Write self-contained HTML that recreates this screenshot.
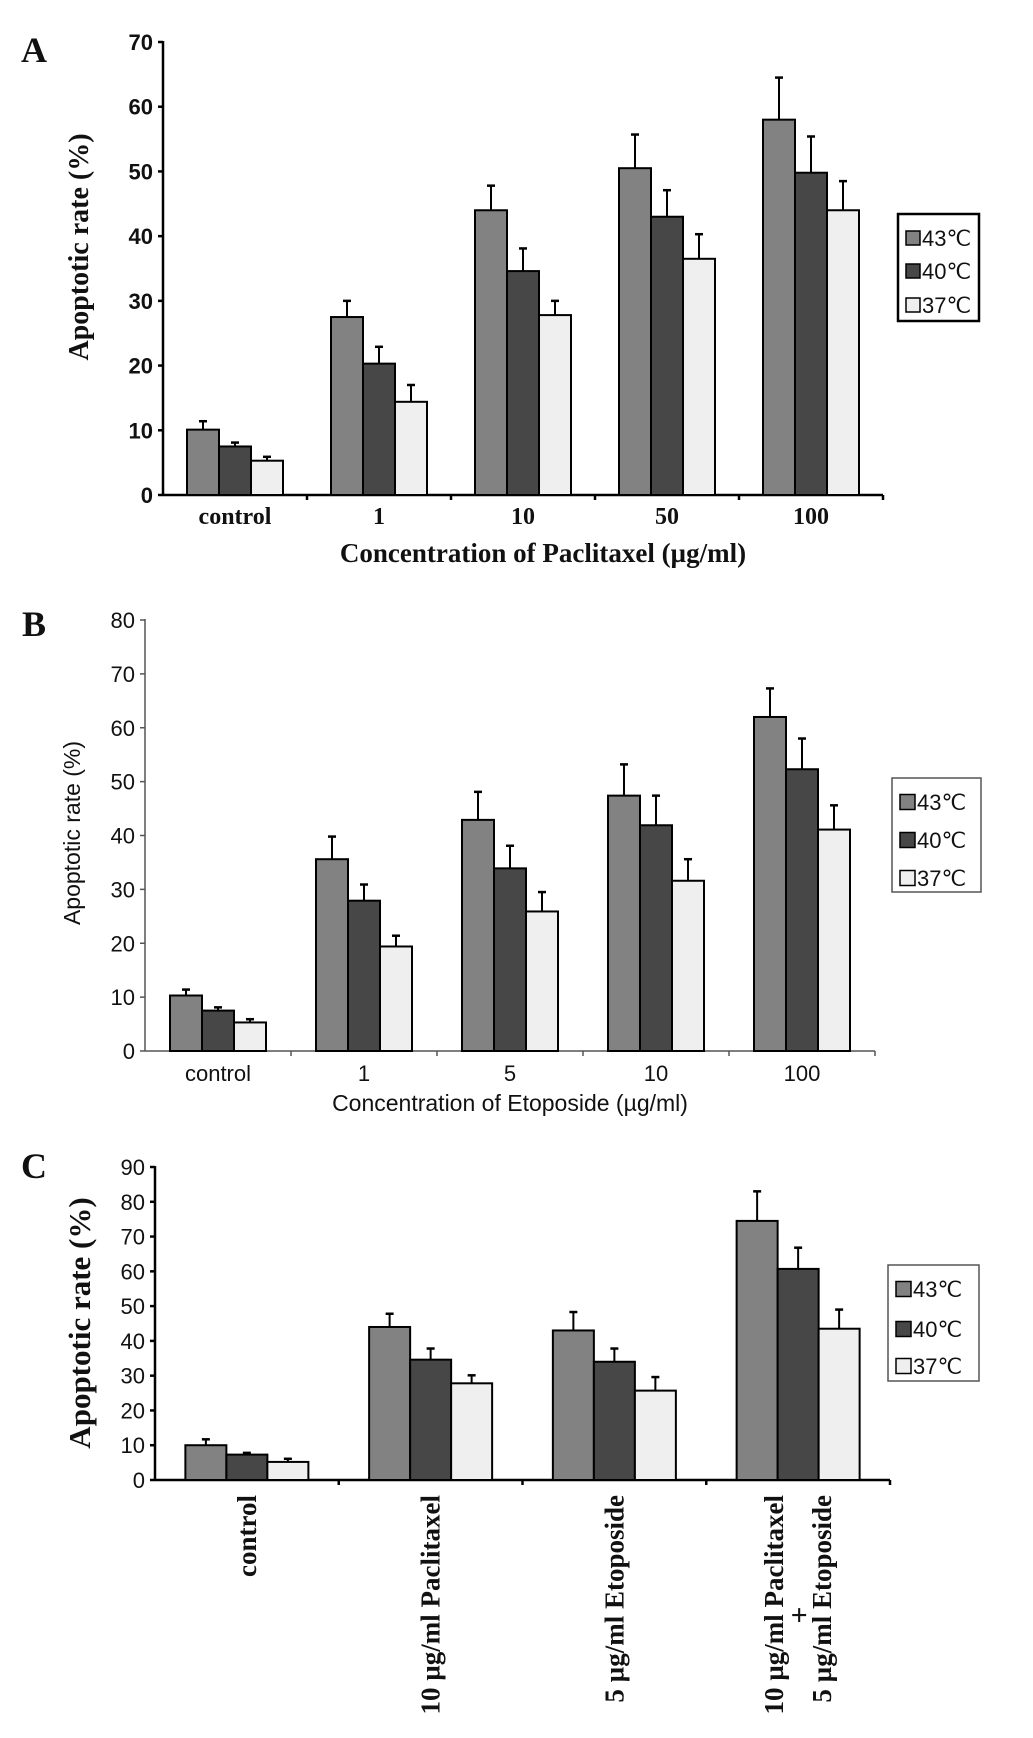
<!DOCTYPE html>
<html><head><meta charset="utf-8">
<style>
html,body{margin:0;padding:0;background:#fff;}
svg{display:block;}
.tick{font-family:"Liberation Sans Narrow","Liberation Sans",sans-serif;font-size:22px;fill:#111;}
.serif{font-family:"Liberation Serif",serif;font-weight:bold;fill:#111;}
.sans{font-family:"Liberation Sans Narrow","Liberation Sans",sans-serif;fill:#111;}
</style></head>
<body>
<svg id="fig" width="1033" height="1738" viewBox="0 0 1033 1738"></svg>
<script>
const seriesNames=["43℃","40℃","37℃"];
const seriesColors=["#828282","#474747","#efefef"];
// Panel A
const catsA=["control","1","10","50","100"];
const a43=[10.1,27.5,44,50.5,58];
const a43err=[1.3,2.5,3.8,5.2,6.5];
const a40=[7.5,20.3,34.6,43,49.8];
const a40err=[0.6,2.6,3.5,4.1,5.6];
const a37=[5.3,14.4,27.8,36.5,44];
const a37err=[0.6,2.6,2.2,3.8,4.5];
const ticksA=[0,10,20,30,40,50,60,70];
// Panel B
const catsB=["control","1","5","10","100"];
const b43=[10.3,35.6,42.9,47.4,62];
const b43err=[1.1,4.2,5.2,5.8,5.3];
const b40=[7.5,27.9,33.9,41.9,52.3];
const b40err=[0.6,3,4.2,5.5,5.7];
const b37=[5.3,19.4,25.9,31.6,41.1];
const b37err=[0.6,2,3.6,4,4.5];
const ticksB=[0,10,20,30,40,50,60,70,80];
// Panel C
const catsC=[["control"],["10 µg/ml Paclitaxel"],["5 µg/ml Etoposide"],["10 µg/ml Paclitaxel","5 µg/ml Etoposide"]];
const c43=[10,44,43,74.5];
const c43err=[1.7,3.8,5.3,8.5];
const c40=[7.3,34.6,34,60.7];
const c40err=[0.5,3.2,3.8,6.1];
const c37=[5.2,27.8,25.7,43.5];
const c37err=[0.9,2.3,3.9,5.5];
const ticksC=[0,10,20,30,40,50,60,70,80,90];

const NS="http://www.w3.org/2000/svg";
const svg=document.getElementById('fig');
function el(tag,attrs,parent,text){const e=document.createElementNS(NS,tag);for(const k in attrs)e.setAttribute(k,attrs[k]);if(text!==undefined)e.textContent=text;(parent||svg).appendChild(e);return e;}

function panel(cfg){
  const g=el('g',{});
  
  
  const y=v=>cfg.y0-(v/cfg.ymax)*(cfg.y0-cfg.ytop);
  const gw=(cfg.x1-cfg.x0)/cfg.cats.length;
  const x=(i,s)=>cfg.x0+i*gw+(gw-3*cfg.bw)/2+s*cfg.bw;
  // axes
  const ax=el('line',{x1:cfg.x0,y1:cfg.ytop-1,x2:cfg.x0,y2:cfg.y0,stroke:cfg.axisColor,'stroke-width':cfg.axisW},g);
  
  
  const xa=el('line',{x1:cfg.x0,y1:cfg.y0,x2:cfg.x1,y2:cfg.y0,stroke:cfg.axisColor,'stroke-width':cfg.axisW},g);
  
  
  cfg.ticks.forEach(t=>{
    el('line',{x1:cfg.x0-5,y1:y(t),x2:cfg.x0,y2:y(t),stroke:cfg.axisColor,'stroke-width':cfg.axisW},g);
    const tl=el('text',{x:cfg.x0-10,y:y(t)+8,'text-anchor':'end',class:'tick','font-weight':cfg.tickBold?'bold':'normal'},g,String(t));
    
    
  });
  for(let i=1;i<=cfg.cats.length;i++){
    el('line',{x1:cfg.x0+i*gw,y1:cfg.y0,x2:cfg.x0+i*gw,y2:cfg.y0+5,stroke:cfg.axisColor,'stroke-width':cfg.axisW},g);
  }
  cfg.series.forEach((vals,s)=>{
    vals.forEach((v,i)=>{
      const bx=x(i,s), top=y(v), et=y(v+cfg.errs[s][i]), cx=bx+cfg.bw/2;
      const eb=el('line',{x1:cx,y1:top,x2:cx,y2:et,stroke:'#000','stroke-width':2},g);
      
      
      el('line',{x1:cx-4,y1:et,x2:cx+4,y2:et,stroke:'#000','stroke-width':2.5},g);
      const r=el('rect',{x:bx,y:top,width:cfg.bw,height:cfg.y0-top,fill:seriesColors[s],stroke:'#000','stroke-width':2},g);
      
      
    });
  });
  // legend
  const L=cfg.legend;
  const lb=el('rect',{x:L.x,y:L.y,width:L.w,height:L.h,fill:'#fff',stroke:L.stroke,'stroke-width':L.sw},g);
  
  
  seriesNames.forEach((n,s)=>{
    const cy=L.rows[s];
    el('rect',{x:L.x+8,y:cy-L.sq/2,width:L.sq,height:L.sq,fill:seriesColors[s],stroke:'#000','stroke-width':1.5},g);
    const t=el('text',{x:L.x+10+L.sq,y:cy+8,class:'tick','font-size':L.fs},g,n);
    
    
  });
  // category labels
  cfg.cats.forEach((c,i)=>{
    const cx=cfg.x0+i*gw+gw/2;
    if(cfg.rotate){
      c.forEach((line,k)=>{
        const off=(k-(c.length-1)/2)*48;
        const t=el('text',{x:0,y:0,'text-anchor':'end',class:'serif','font-size':27,transform:`translate(${cx+off+9},${cfg.labY}) rotate(-90)`},g,line);
        
        
      });
      if(c.length>1){el('text',{x:cx+1,y:cfg.labY+130,'text-anchor':'middle',class:'serif','font-size':30},g,'+');}
    } else {
      const t=el('text',{x:cx,y:cfg.labY,'text-anchor':'middle',class:cfg.labClass,'font-size':cfg.labFs,'font-weight':cfg.labBold?'bold':'normal'},g,c);
      
      
    }
  });
  return g;
}

function title(txt,x,y,cls,fs,rot,name,weight){
  const t=el('text',{x:0,y:0,'text-anchor':'middle',class:cls,'font-size':fs,transform:`translate(${x},${y})`+(rot?' rotate(-90)':'')},svg,txt);
  if(weight)t.setAttribute('font-weight',weight);
  
  
}

panel({name:'chart-a',cats:catsA,series:[a43,a40,a37],errs:[a43err,a40err,a37err],ticks:ticksA,ymax:70,
  x0:163,x1:883,ytop:42,y0:495,bw:32,axisColor:'#000',axisW:2.5,tickBold:true,
  labY:524,labClass:'serif',labFs:24,labBold:true,
  legend:{x:898,y:214,w:81,h:107,rows:[238,271,305],sq:14,fs:22,stroke:'#000',sw:2.5}});
title('A',34,62,'serif',36,false,'panel-label-a');
title('Apoptotic rate (%)',88,247,'serif',28,true,'y-axis-title-a');
title('Concentration of Paclitaxel (µg/ml)',543,562,'serif',27,false,'x-axis-title-a');

panel({name:'chart-b',cats:catsB,series:[b43,b40,b37],errs:[b43err,b40err,b37err],ticks:ticksB,ymax:80,
  x0:145,x1:875,ytop:620,y0:1051,bw:32,axisColor:'#555',axisW:1.5,tickBold:false,
  labY:1081,labClass:'sans',labFs:22,labBold:false,
  legend:{x:892,y:778,w:89,h:114,rows:[802,840,878],sq:15,fs:23,stroke:'#555',sw:1.5}});
title('B',34,636,'serif',36,false,'panel-label-b');
title('Apoptotic rate  (%)',80,833,'sans',23,true,'y-axis-title-b');
title('Concentration of Etoposide (µg/ml)',510,1111,'sans',23,false,'x-axis-title-b');

panel({name:'chart-c',cats:catsC,series:[c43,c40,c37],errs:[c43err,c40err,c37err],ticks:ticksC,ymax:90,
  x0:155,x1:890,ytop:1167,y0:1480,bw:41,axisColor:'#000',axisW:2.5,tickBold:false,
  labY:1495,rotate:true,
  legend:{x:888,y:1265,w:91,h:116,rows:[1289,1329,1366],sq:15,fs:23,stroke:'#555',sw:1.5}});
title('C',34,1178,'serif',36,false,'panel-label-c');
title('Apoptotic rate (%)',90,1323,'serif',31,true,'y-axis-title-c');
</script>
</body></html>
